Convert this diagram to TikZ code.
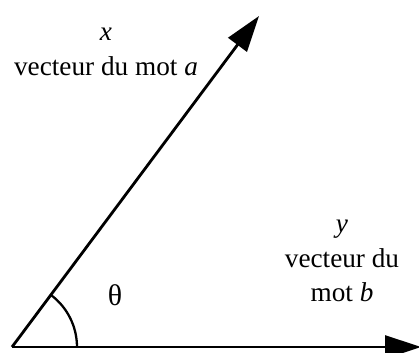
\documentclass[tikz,border=0pt]{standalone}
\usepackage{fontspec}
\setmainfont{Liberation Serif}
\usetikzlibrary{arrows.meta}
\tikzset{vec/.style={line width=1.6pt,-{Triangle[length=0.72cm,width=0.46cm]}},
  lbl/.style={align=center,font=\fontsize{15.5}{17.5}\selectfont,inner sep=0pt}}
\begin{document}
\begin{tikzpicture}[x=0.02cm,y=0.02cm]
        \useasboundingbox (0,0) rectangle (419,352);
        \coordinate (O) at (12,5);
        \coordinate (A) at (259,336);
        \coordinate (B) at (421,5);
        \draw[vec](O)--(A);
        \draw[vec](O)--(B);
        \draw[line width=1.3pt]([shift={(0:1.3cm)}]O) arc[start angle=0,end angle=53.3,radius=1.3cm];
        \node[lbl] (theta) at (115,57) {\fontsize{17}{19}\selectfont θ};
        \node[lbl] (xa) at (106,300) {\textit{x}\\[2pt]vecteur du mot \textit{a}};
        \node[lbl] (yb) at (342,91) {\textit{y}\\[2pt]vecteur du\\[2pt]mot \textit{b}};
    \end{tikzpicture}
\end{document}
